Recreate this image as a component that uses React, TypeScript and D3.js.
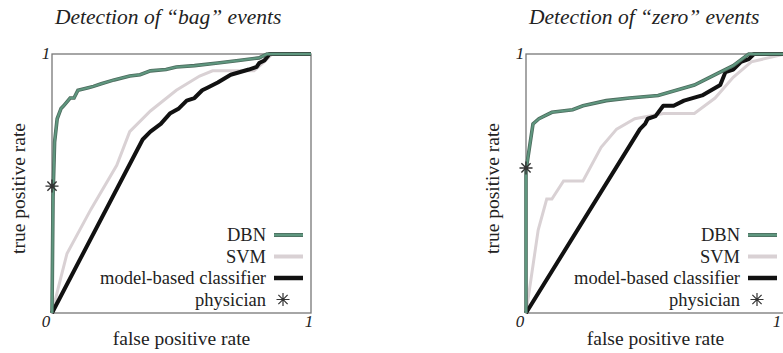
import React from 'react';
import * as d3 from 'd3';

// ROC points, [false positive rate, true positive rate]
const bagDbn: [number, number][] = [
  [0, 0], [0.004, 0.45], [0.01, 0.66], [0.02, 0.75], [0.035, 0.79], [0.045, 0.8], [0.07, 0.83],
  [0.085, 0.83], [0.1, 0.86], [0.14, 0.87], [0.16, 0.875], [0.19, 0.885], [0.24, 0.9],
  [0.3, 0.915], [0.34, 0.92], [0.38, 0.935], [0.44, 0.94], [0.48, 0.95], [0.55, 0.955],
  [0.64, 0.965], [0.72, 0.975], [0.8, 0.985], [0.83, 1], [1, 1]
];
const bagSvm: [number, number][] = [
  [0, 0], [0.03, 0.12], [0.058, 0.23], [0.15, 0.4], [0.25, 0.57], [0.3, 0.7], [0.38, 0.78],
  [0.48, 0.86], [0.57, 0.915], [0.62, 0.935], [0.78, 0.935], [0.82, 0.97], [0.85, 1], [1, 1]
];
const bagModel: [number, number][] = [
  [0, 0], [0.35, 0.67], [0.38, 0.7], [0.42, 0.73], [0.455, 0.77], [0.49, 0.79], [0.52, 0.82],
  [0.55, 0.83], [0.58, 0.86], [0.6, 0.87], [0.64, 0.89], [0.69, 0.92], [0.76, 0.94],
  [0.79, 0.95], [0.8, 0.965], [0.82, 0.975], [0.84, 1], [1, 1]
];
const bagPhysician: [number, number] = [0, 0.49];

const zeroDbn: [number, number][] = [
  [0, 0], [0, 0.55], [0.027, 0.73], [0.05, 0.75], [0.07, 0.76], [0.1, 0.775], [0.14, 0.78],
  [0.18, 0.785], [0.22, 0.8], [0.31, 0.82], [0.4, 0.83], [0.51, 0.84], [0.58, 0.86],
  [0.65, 0.88], [0.74, 0.925], [0.8, 0.955], [0.86, 1], [1, 1]
];
const zeroSvm: [number, number][] = [
  [0, 0], [0.047, 0.32], [0.08, 0.44], [0.1, 0.44], [0.145, 0.51], [0.22, 0.51], [0.29, 0.64],
  [0.35, 0.71], [0.42, 0.75], [0.53, 0.77], [0.65, 0.77], [0.73, 0.83], [0.8, 0.91],
  [0.87, 0.97], [1, 1]
];
const zeroModel: [number, number][] = [
  [0, 0], [0.44, 0.71], [0.46, 0.73], [0.47, 0.75], [0.5, 0.76], [0.53, 0.8], [0.57, 0.8],
  [0.61, 0.82], [0.68, 0.84], [0.75, 0.88], [0.77, 0.93], [0.8, 0.94], [0.83, 0.97],
  [0.86, 0.98], [0.88, 1], [1, 1]
];
const zeroPhysician: [number, number] = [0, 0.56];

const legendLabels = ['DBN', 'SVM', 'model-based classifier', 'physician'];
const tickLabels = ['0', '1'];

const colors = { dbn: '#5f977f', dbnEdge: '#4d6b5e', svm: '#d9d1d4', model: '#111111', star: '#333333' };
const serif = '"Liberation Serif", "Times New Roman", serif';

// eight-spoke star used for the physician operating point
const starType = {
  draw(context: any, size: number) {
    const r = Math.sqrt(size) / 2;
    const d = r * Math.SQRT1_2;
    context.moveTo(-r, 0); context.lineTo(r, 0);
    context.moveTo(0, -r); context.lineTo(0, r);
    context.moveTo(-d, -d); context.lineTo(d, d);
    context.moveTo(-d, d); context.lineTo(d, -d);
  }
};

type PanelProps = {
  left: number;
  title: string;
  dbn: [number, number][];
  svm: [number, number][];
  model: [number, number][];
  physician: [number, number];
};

function Panel({ left, title, dbn, svm, model, physician }: PanelProps) {
  const top = 54;
  const w = 259;
  const h = 259;
  const x = d3.scaleLinear().domain([0, 1]).range([left, left + w]);
  const y = d3.scaleLinear().domain([0, 1]).range([top + h, top]);
  const line = d3.line<[number, number]>().x(d => x(d[0])).y(d => y(d[1]));
  const star = d3.symbol().type(starType as any).size(170)();

  const legX = left + w - 45;
  const legY = [235, 256.5, 278, 299.5];
  const lastTickX = Math.min(x(1) - 2, 777);

  return (
    <g>
      <text x={left + 3} y={24} fontFamily={serif} fontStyle="italic" fontSize={21.5} fill="#222">
        {title}
      </text>
      <rect x={left} y={top} width={w} height={h} fill="none" stroke="#777" strokeWidth={1.3} />
      <path d={line(svm) || ''} fill="none" stroke={colors.svm} strokeWidth={3} />
      <path d={line(model) || ''} fill="none" stroke={colors.model} strokeWidth={4} strokeLinejoin="round" />
      <path d={line(dbn) || ''} fill="none" stroke={colors.dbnEdge} strokeWidth={3.6} />
      <path d={line(dbn) || ''} fill="none" stroke={colors.dbn} strokeWidth={2} />
      <path d={star} transform={`translate(${x(physician[0])},${y(physician[1])})`}
        fill="none" stroke={colors.star} strokeWidth={1.4} />

      <text x={x(0) - 6} y={y(1) + 5} fontFamily={serif} fontStyle="italic" fontSize={17} fill="#222" textAnchor="middle">{tickLabels[1]}</text>
      <text x={x(0) - 6} y={y(0) + 14} fontFamily={serif} fontStyle="italic" fontSize={17} fill="#222" textAnchor="middle">{tickLabels[0]}</text>
      <text x={lastTickX} y={y(0) + 14} fontFamily={serif} fontStyle="italic" fontSize={17} fill="#222" textAnchor="middle">{tickLabels[1]}</text>

      <text x={left + w / 2} y={345} fontFamily={serif} fontSize={19.5} fill="#222" textAnchor="middle">false positive rate</text>
      <text transform={`translate(${left - 27},${top + h / 2 + 5}) rotate(-90)`} fontFamily={serif} fontSize={19.5} fill="#222" textAnchor="middle">true positive rate</text>

      {legendLabels.map((lab, i) => (
        <text key={lab} x={legX} y={legY[i] + 6} fontFamily={serif} fontSize={18.5} fill="#222" textAnchor="end">{lab}</text>
      ))}
      <line x1={legX + 8} x2={legX + 37} y1={legY[0]} y2={legY[0]} stroke={colors.dbnEdge} strokeWidth={4} />
      <line x1={legX + 8} x2={legX + 37} y1={legY[0]} y2={legY[0]} stroke={colors.dbn} strokeWidth={2.4} />
      <line x1={legX + 8} x2={legX + 37} y1={legY[1]} y2={legY[1]} stroke={colors.svm} strokeWidth={4} />
      <line x1={legX + 8} x2={legX + 37} y1={legY[2]} y2={legY[2]} stroke={colors.model} strokeWidth={4.5} />
      <path d={star} transform={`translate(${legX + 17},${legY[3]})`} fill="none" stroke={colors.star} strokeWidth={1.2} />
    </g>
  );
}

export default function App() {
  return (
    <svg width={783} height={353} style={{ position: 'absolute', left: 0, top: 0, background: '#fff' }}>
      <Panel left={52} title={'Detection of \u201cbag\u201d events'} dbn={bagDbn} svm={bagSvm} model={bagModel} physician={bagPhysician} />
      <Panel left={526} title={'Detection of \u201czero\u201d events'} dbn={zeroDbn} svm={zeroSvm} model={zeroModel} physician={zeroPhysician} />
    </svg>
  );
}
